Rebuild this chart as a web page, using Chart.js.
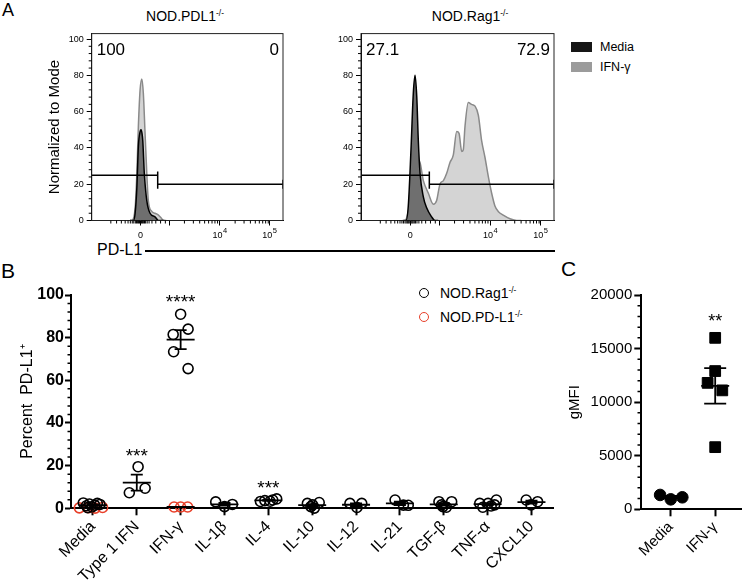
<!DOCTYPE html>
<html lang="en">
<head>
<meta charset="UTF-8">
<title>PD-L1 induction by cytokines</title>
<script src="https://cdn.jsdelivr.net/npm/chart.js"></script>
<style>
  body { margin: 0; background: #fff; font-family: Arial, "Liberation Sans", sans-serif; color: #000; }
  #page { position: relative; width: 750px; height: 582px; overflow: hidden; }
  canvas { position: absolute; }
  .txt { position: absolute; white-space: nowrap; line-height: 1.15; transform: translateY(-50%); }
  .mid { transform: translate(-50%, -50%); }
  sup { font-size: 0.6em; vertical-align: 0.55em; line-height: 0; }
  .sq { position: absolute; width: 21px; height: 10px; }
  .dot { position: absolute; width: 10px; height: 10px; box-sizing: border-box; border-radius: 50%; border: 1.5px solid #000; }
</style>
</head>
<body>
<div id="page">
  <div class="txt" style="left:2px; top:10px; font-size:18px;">A</div>
  <div class="txt mid" style="left:185px; top:16px; font-size:14px;">NOD.PDL1<sup>-/-</sup></div>
  <div class="txt mid" style="left:470px; top:16px; font-size:14px;">NOD.Rag1<sup>-/-</sup></div>
  <div class="sq" style="left:571px; top:42px; background:#161616;"></div>
  <div class="sq" style="left:571px; top:62px; background:#9b9b9b;"></div>
  <div class="txt" style="left:600px; top:47px; font-size:12.5px;">Media</div>
  <div class="txt" style="left:600px; top:67px; font-size:12.5px;">IFN-γ</div>
  <div class="txt" style="left:97px; top:250px; font-size:16px;">PD-L1</div>
  <div style="position:absolute; left:145px; top:250px; width:410px; height:1.5px; background:#000;"></div>

  <div class="txt" style="left:1px; top:271px; font-size:21px;">B</div>
  <div class="dot" style="left:419px; top:288px;"></div>
  <div class="dot" style="left:419px; top:312px; border-color:#e8402a;"></div>
  <div class="txt" style="left:440px; top:293px; font-size:14px;">NOD.Rag1<sup>-/-</sup></div>
  <div class="txt" style="left:440px; top:317px; font-size:14px;">NOD.PD-L1<sup>-/-</sup></div>

  <div class="txt" style="left:561px; top:269px; font-size:21px;">C</div>

  <canvas id="flowPdl1" width="275" height="232" style="left:20px; top:20px;"></canvas>
  <canvas id="flowRag1" width="245" height="232" style="left:320px; top:20px;"></canvas>
  <canvas id="panelB" width="560" height="320" style="left:0px; top:262px;"></canvas>
  <canvas id="panelC" width="190" height="320" style="left:560px; top:262px;"></canvas>
</div>

<script>
const FONT = 'Arial, "Liberation Sans", sans-serif';
Chart.defaults.font.family = FONT;
Chart.defaults.color = '#000';

// ---- A: histograms, x in display channels (0-1000) of the biexponential axis
const flowTicks = [255, 405, 670, 930];
const flowTickBase = ['0', '', '10', '10'];
const flowTickExp = ['', '', '4', '5'];

const pdl1MediaX = [200, 218, 227, 236, 244, 253, 258, 263, 267, 275, 288, 305, 331, 349, 380];
const pdl1MediaY = [0, 0, 4, 18, 41, 49, 50, 48, 44, 26, 11, 4, 2, 0, 0];
const pdl1IfngX = [200, 209, 227, 236, 244, 253, 262, 270, 279, 288, 296, 314, 331, 349, 366, 375, 390];
const pdl1IfngY = [0, 0, 7, 26, 52, 72, 78, 70, 48, 26, 11, 5, 4, 3, 1, 0, 0];

const rag1MediaX = [220, 233, 245, 259, 271, 280, 289, 297, 306, 323, 340, 366, 383, 400];
const rag1MediaY = [0, 0, 8, 39, 70, 80, 68, 44, 26, 13, 7, 2, 0, 0];
const rag1IfngX = [215, 228, 245, 262, 282, 302, 323, 349, 375, 392, 409, 427, 444, 461, 478, 496, 508,
                   522, 530, 539, 556, 573, 591, 608, 625, 642, 660, 677, 694, 711, 737, 772, 807, 830];
const rag1IfngY = [0, 0, 5, 15, 28, 33, 22, 15, 9, 11, 20, 22, 26, 32, 36, 49, 48,
                   38, 39, 52, 65, 64, 63, 58, 44, 35, 24, 15, 8, 5, 3, 1, 0, 0];

const gatePdl1 = 345;
const gateRag1 = 354;
const gateLowLevel = 25;
const gateHighLevel = 20;
const pctPdl1 = ['100', '0'];
const pctRag1 = ['27.1', '72.9'];

// ---- B: percent PD-L1+ per cytokine
const catsB = ['Media', 'Type 1 IFN', 'IFN-γ', 'IL-1β', 'IL-4', 'IL-10', 'IL-12', 'IL-21', 'TGF-β', 'TNF-α', 'CXCL10'];
const rag1Values = [
  [2.5, 1.2, 2.0, 0.6, 1.5, 2.3, 1.8, 0.3],
  [7.3, 19.5, 9.4],
  [91, 84, 81.5, 73.4, 65.5],
  [3.0, 0.8, 1.8],
  [3.2, 3.6, 3.3, 4.4, 3.9],
  [2.3, 1.6, 2.7, 0.1, 0.8],
  [2.3, 2.3, 0.4],
  [3.9, 1.5, 1.4],
  [3.1, 3.1, 0.8, 0.5, 1.6],
  [2.3, 3.9, 0.5, 1.1, 2.3, 1.6],
  [3.9, 3.1, 1.6]
];
const rag1Jitter = [
  [-0.22, -0.15, -0.08, -0.02, 0.04, 0.1, 0.16, -0.12],
  [-0.17, 0.03, 0.19],
  [0, 0.17, -0.17, -0.16, 0.17],
  [-0.2, 0, 0.18],
  [-0.18, -0.08, 0.04, 0.19, 0.1],
  [-0.11, 0.01, 0.16, 0.05, -0.03],
  [-0.14, 0.13, 0.02],
  [-0.11, 0.08, 0.19],
  [-0.11, 0.18, -0.02, 0.06, -0.05],
  [-0.18, 0.2, -0.11, 0.08, 0.01, 0.16],
  [-0.12, 0.14, -0.01]
];
const pdl1Cats = [0, 2];
const pdl1Values = [[0.2, 0.3, 0.1, 0.4], [0.6, 0.6, 0.6]];
const pdl1Jitter = [[-0.31, -0.1, 0.05, 0.22], [-0.15, 0, 0.16]];
const starsB = [{ cat: 1, y: 26.6, text: '***' }, { cat: 2, y: 99, text: '****' }, { cat: 4, y: 11.6, text: '***' }];

// ---- C: gMFI
const catsC = ['Media', 'IFN-γ'];
const gmfiMedia = [1340, 930, 1120];
const gmfiMediaJitter = [-0.24, 0, 0.26];
const gmfiIfng = [16000, 12900, 11800, 11100, 5800];
const gmfiIfngJitter = [0, 0, -0.17, 0.16, 0];
const starsC = [{ cat: 1, y: 18000, text: '**' }];

// ---------- plugins
const frame = {
  id: 'frame',
  afterDraw(chart) {
    const { ctx, chartArea: a } = chart;
    ctx.save();
    ctx.strokeStyle = '#222';
    ctx.lineWidth = 1;
    ctx.strokeRect(a.left, a.top, a.right - a.left, a.bottom - a.top);
    ctx.restore();
  }
};

const minorTicks = {
  id: 'minorTicks',
  afterDraw(chart, args, opts) {
    const { ctx, chartArea: a, scales } = chart;
    ctx.save();
    ctx.strokeStyle = '#000';
    ctx.lineWidth = opts.width || 1;
    ctx.beginPath();
    (opts.x || []).forEach(v => {
      const px = scales.x.getPixelForValue(v);
      ctx.moveTo(px, a.bottom);
      ctx.lineTo(px, a.bottom + opts.len);
    });
    (opts.y || []).forEach(v => {
      const py = scales.y.getPixelForValue(v);
      ctx.moveTo(a.left - opts.len, py);
      ctx.lineTo(a.left, py);
    });
    ctx.stroke();
    ctx.restore();
  }
};

// x tick labels of the flow axis: "10" with a raised exponent
const powerLabels = {
  id: 'powerLabels',
  afterDraw(chart) {
    const { ctx, chartArea: a, scales: { x } } = chart;
    ctx.save();
    ctx.fillStyle = '#000';
    ctx.textBaseline = 'alphabetic';
    ctx.textAlign = 'left';
    flowTicks.forEach((v, i) => {
      const base = flowTickBase[i], exp = flowTickExp[i];
      if (!base) return;
      ctx.font = '9px ' + FONT;
      const wb = ctx.measureText(base).width;
      ctx.font = '7.5px ' + FONT;
      const we = exp ? ctx.measureText(exp).width + 0.5 : 0;
      const px = x.getPixelForValue(v) - (wb + we) / 2;
      const py = a.bottom + 17;
      ctx.font = '9px ' + FONT;
      ctx.fillText(base, px, py);
      if (exp) {
        ctx.font = '7.5px ' + FONT;
        ctx.fillText(exp, px + wb + 0.5, py - 4.5);
      }
    });
    ctx.restore();
  }
};

const cornerPct = {
  id: 'cornerPct',
  afterDraw(chart, args, opts) {
    if (!opts.text) return;
    const { ctx, chartArea: a, scales } = chart;
    const py = scales.y.getPixelForValue(opts.y);
    ctx.save();
    ctx.fillStyle = '#000';
    ctx.font = opts.size + 'px ' + FONT;
    ctx.textBaseline = 'middle';
    ctx.textAlign = 'left';
    ctx.fillText(opts.text[0], a.left + 5, py);
    ctx.textAlign = 'right';
    ctx.fillText(opts.text[1], a.right - 4, py);
    ctx.restore();
  }
};

const starLabels = {
  id: 'starLabels',
  afterDatasetsDraw(chart, args, opts) {
    if (!opts.items) return;
    const { ctx, scales: { x, y } } = chart;
    ctx.save();
    ctx.fillStyle = '#000';
    ctx.font = opts.size + 'px ' + FONT;
    ctx.textAlign = 'center';
    ctx.textBaseline = 'alphabetic';
    opts.items.forEach(s => ctx.fillText(s.text, x.getPixelForValue(s.cat + 1), y.getPixelForValue(s.y) + 0.57 * opts.size));
    ctx.restore();
  }
};

// mean line with SEM whiskers for each group
const meanSem = {
  id: 'meanSem',
  afterDatasetsDraw(chart, args, opts) {
    if (!opts.groups) return;
    const { ctx, scales: { x, y } } = chart;
    ctx.save();
    ctx.strokeStyle = '#000';
    ctx.lineWidth = opts.width;
    opts.groups.forEach(g => {
      const n = g.values.length;
      const m = g.values.reduce((s, v) => s + v, 0) / n;
      const sd = Math.sqrt(g.values.reduce((s, v) => s + (v - m) ** 2, 0) / (n - 1));
      const sem = sd / Math.sqrt(n);
      const cx = x.getPixelForValue(g.x);
      const pm = y.getPixelForValue(m), pt = y.getPixelForValue(m + sem), pb = y.getPixelForValue(m - sem);
      ctx.beginPath();
      ctx.moveTo(cx - opts.half, pm); ctx.lineTo(cx + opts.half, pm);
      ctx.moveTo(cx, pt); ctx.lineTo(cx, pb);
      ctx.moveTo(cx - opts.cap, pt); ctx.lineTo(cx + opts.cap, pt);
      ctx.moveTo(cx - opts.cap, pb); ctx.lineTo(cx + opts.cap, pb);
      ctx.stroke();
    });
    ctx.restore();
  }
};

// ---------- A
function flowMinorX() {
  const out = [];
  [405, 670].forEach(d => { for (let k = 2; k <= 9; k++) out.push(d + 265 * Math.log10(k)); });
  [100, 130, 155, 175, 190, 202, 212, 220, 228, 234, 240, 245, 250, 260, 265, 270, 276, 282, 290, 300, 315, 335, 360, 385]
    .forEach(v => out.push(v));
  return out;
}
const flowMinorY = [4, 8, 12, 16, 24, 28, 32, 36, 44, 48, 52, 56, 64, 68, 72, 76, 84, 88, 92, 96];

function pts(xs, ys) { return xs.map((x, i) => ({ x: x, y: ys[i] })); }

function gateSets(gx) {
  const base = { borderColor: '#000', borderWidth: 1.5, pointRadius: 0, fill: false, tension: 0 };
  return [
    Object.assign({ data: [{ x: 0, y: gateLowLevel }, { x: gx, y: gateLowLevel }] }, base),
    Object.assign({ data: [{ x: gx, y: gateHighLevel - 2.5 }, { x: gx, y: gateLowLevel + 2 }] }, base),
    Object.assign({ data: [{ x: gx, y: gateHighLevel }, { x: 1000, y: gateHighLevel }] }, base),
    Object.assign({ data: [{ x: 1000, y: gateHighLevel - 2.5 }, { x: 1000, y: gateHighLevel + 2.5 }] }, base)
  ];
}

function flowChart(id, mediaX, mediaY, ifngX, ifngY, gx, pct, yWidth, withTitle) {
  return new Chart(document.getElementById(id), {
    type: 'line',
    data: {
      datasets: gateSets(gx).concat([
        { label: 'Media', data: pts(mediaX, mediaY), borderColor: '#000', borderWidth: 1.5,
          backgroundColor: '#6f6f6f', fill: 'origin', pointRadius: 0, cubicInterpolationMode: 'monotone' },
        { label: 'IFN-γ', data: pts(ifngX, ifngY), borderColor: '#8a8a8a', borderWidth: 1.5,
          backgroundColor: '#d4d4d4', fill: 'origin', pointRadius: 0, cubicInterpolationMode: 'monotone' }
      ])
    },
    options: {
      responsive: false, animation: false, events: [],
      layout: { padding: { top: 13.6, right: id === 'flowPdl1' ? 12 : 11 } },
      plugins: {
        legend: { display: false }, tooltip: { enabled: false },
        minorTicks: { x: flowMinorX(), y: flowMinorY, len: 3 },
        cornerPct: { text: pct, y: 94, size: 17 }
      },
      scales: {
        x: {
          type: 'linear', min: 0, max: 1000,
          afterBuildTicks: s => { s.ticks = flowTicks.map(v => ({ value: v })); },
          ticks: { display: false },
          grid: { drawOnChartArea: false, tickLength: 5, color: '#000' },
          border: { color: '#000', width: 1 },
          afterFit: s => { s.height = 31.5; }
        },
        y: {
          min: 0, max: 103,
          ticks: { stepSize: 20, includeBounds: false, font: { size: 9 }, padding: 3 },
          grid: { drawOnChartArea: false, tickLength: 5, color: '#000' },
          border: { color: '#000', width: 1 },
          title: { display: withTitle, text: 'Normalized to Mode', font: { size: 15 }, padding: { top: 26 } },
          afterFit: s => { s.width = yWidth; }
        }
      }
    },
    plugins: [frame, minorTicks, cornerPct, powerLabels]
  });
}

flowChart('flowPdl1', pdl1MediaX, pdl1MediaY, pdl1IfngX, pdl1IfngY, gatePdl1, pctPdl1, 71.7, true);
flowChart('flowRag1', rag1MediaX, rag1MediaY, rag1IfngX, rag1IfngY, gateRag1, pctRag1, 41, false);

// ---------- B
const rag1Points = [], rag1Groups = [];
rag1Values.forEach((vals, i) => {
  vals.forEach((v, j) => rag1Points.push({ x: i + 1 + rag1Jitter[i][j], y: v }));
  rag1Groups.push({ x: i + 1, values: vals });
});
const pdl1Points = [], pdl1Groups = [];
pdl1Values.forEach((vals, k) => {
  const c = pdl1Cats[k];
  vals.forEach((v, j) => pdl1Points.push({ x: c + 1 + pdl1Jitter[k][j], y: v }));
  pdl1Groups.push({ x: c + 1, values: vals });
});

const minorB = [];
for (let v = 4; v < 100; v += 4) if (v % 20) minorB.push(v);

new Chart(document.getElementById('panelB'), {
  type: 'scatter',
  data: {
    datasets: [
      { label: 'NOD.Rag1-/-', data: rag1Points, pointRadius: 5, borderWidth: 1.6, pointBorderColor: '#000',
        pointBackgroundColor: 'rgba(0,0,0,0)', clip: false },
      { label: 'NOD.PD-L1-/-', data: pdl1Points, pointRadius: 5, borderWidth: 1.6, pointBorderColor: '#e8402a',
        pointBackgroundColor: 'rgba(0,0,0,0)', clip: false }
    ]
  },
  options: {
    responsive: false, animation: false, events: [],
    layout: { padding: { top: 33, right: 6 } },
    plugins: {
      legend: { display: false }, tooltip: { enabled: false },
      minorTicks: { y: minorB, len: 3.5, width: 1.5 },
      meanSem: { groups: rag1Groups.concat(pdl1Groups), half: 14, cap: 6, width: 1.8 },
      starLabels: { items: starsB, size: 19 }
    },
    scales: {
      x: {
        type: 'linear', min: 0.5, max: 11.5,
        afterBuildTicks: s => { s.ticks = catsB.map((c, i) => ({ value: i + 1 })); },
        ticks: { callback: v => catsB[v - 1], minRotation: 45, maxRotation: 45, autoSkip: false, font: { size: 16 }, padding: 2 },
        grid: { drawOnChartArea: false, tickLength: 7, tickWidth: 2, color: '#000' },
        border: { color: '#000', width: 2 },
        afterFit: s => { s.height = 73.7; }
      },
      y: {
        min: 0, max: 100,
        ticks: { stepSize: 20, font: { size: 16, weight: 'bold' }, padding: 1 },
        grid: { drawOnChartArea: false, tickLength: 6, tickWidth: 2, color: '#000' },
        border: { color: '#000', width: 2 },
        title: { display: true, text: 'Percent  PD-L1⁺', font: { size: 16 }, padding: { top: 18 } },
        afterFit: s => { s.width = 71; }
      }
    }
  },
  plugins: [minorTicks, meanSem, starLabels]
});

// ---------- C
const minorC = [];
for (let v = 1000; v < 20000; v += 1000) if (v % 5000) minorC.push(v);

new Chart(document.getElementById('panelC'), {
  type: 'scatter',
  data: {
    datasets: [
      { label: 'Media', data: gmfiMedia.map((v, j) => ({ x: 1 + gmfiMediaJitter[j], y: v })), pointStyle: 'circle',
        pointRadius: 5.8, pointBackgroundColor: '#000', pointBorderColor: '#000', clip: false },
      { label: 'IFN-γ', data: gmfiIfng.map((v, j) => ({ x: 2 + gmfiIfngJitter[j], y: v })), pointStyle: 'rect',
        pointRadius: 7.6, pointBackgroundColor: '#000', pointBorderColor: '#000', clip: false }
    ]
  },
  options: {
    responsive: false, animation: false, events: [],
    layout: { padding: { top: 33, right: 0 } },
    plugins: {
      legend: { display: false }, tooltip: { enabled: false },
      minorTicks: { y: minorC, len: 3.5, width: 1.5 },
      meanSem: { groups: [{ x: 1, values: gmfiMedia }, { x: 2, values: gmfiIfng }], half: 14, cap: 11, width: 1.8 },
      starLabels: { items: starsC, size: 18 }
    },
    scales: {
      x: {
        type: 'linear', min: 0.33, max: 2.59,
        afterBuildTicks: s => { s.ticks = catsC.map((c, i) => ({ value: i + 1 })); },
        ticks: { callback: v => catsC[v - 1], minRotation: 45, maxRotation: 45, autoSkip: false, font: { size: 15 }, padding: 2 },
        grid: { drawOnChartArea: false, tickLength: 7, tickWidth: 2, color: '#000' },
        border: { color: '#000', width: 2 },
        afterFit: s => { s.height = 72.7; }
      },
      y: {
        min: 0, max: 20000,
        ticks: { stepSize: 5000, font: { size: 15 }, padding: 2, callback: v => String(v) },
        grid: { drawOnChartArea: false, tickLength: 6.7, tickWidth: 2, color: '#000' },
        border: { color: '#000', width: 2 },
        title: { display: true, text: 'gMFI', font: { size: 15 }, padding: { top: 6 } },
        afterFit: s => { s.width = 81; }
      }
    }
  },
  plugins: [minorTicks, meanSem, starLabels]
});
</script>
</body>
</html>
